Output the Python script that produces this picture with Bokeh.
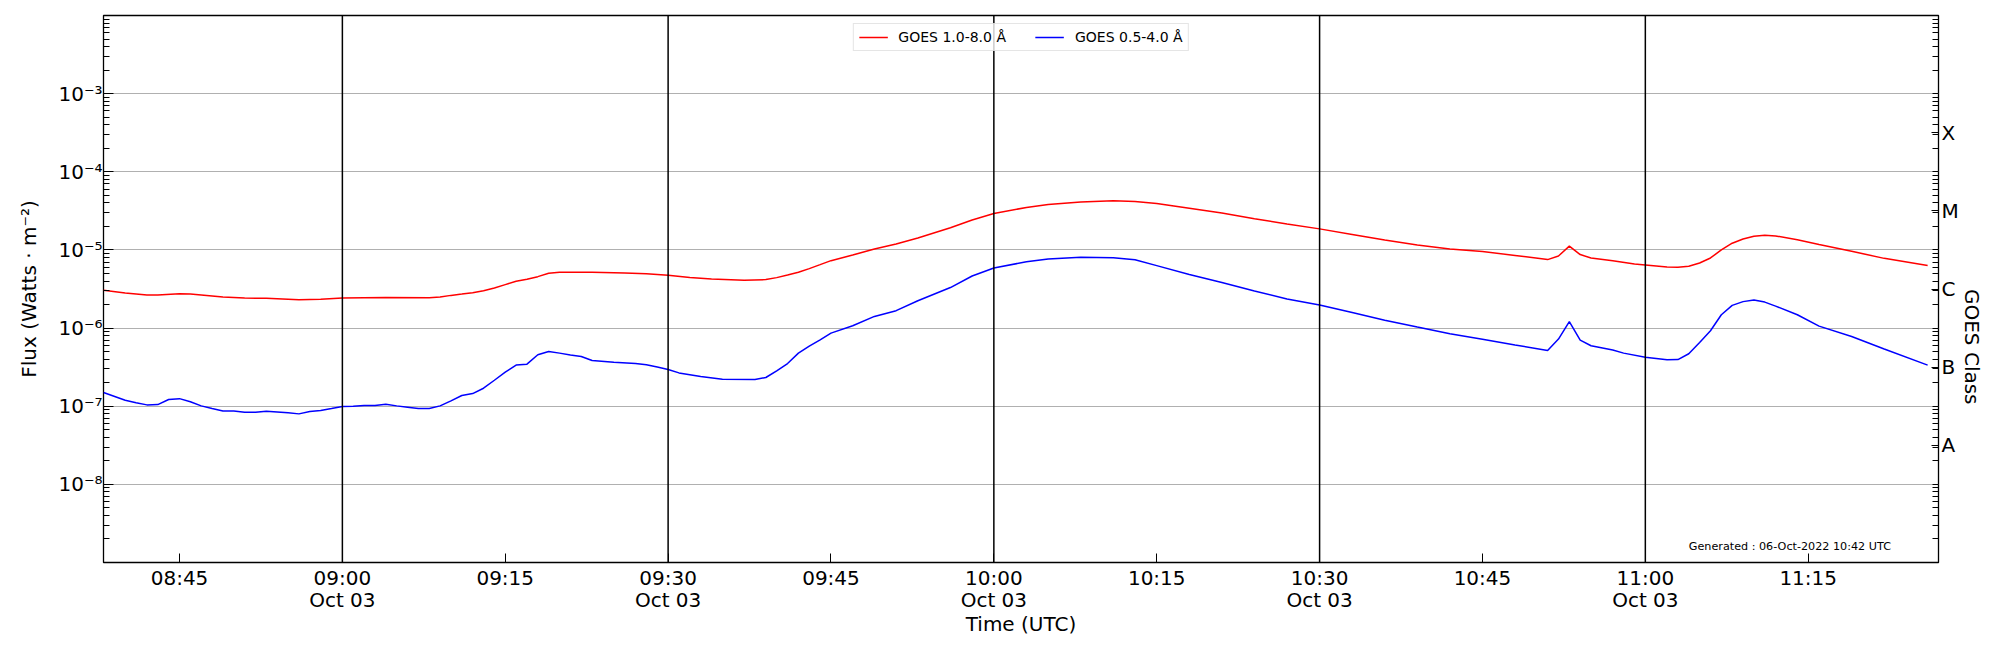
import pandas as pd
from bokeh.plotting import figure
from bokeh.models import (Range1d, FixedTicker, LogAxis, Span, Label, Legend,
                          LegendItem, ColumnDataSource)
from bokeh.embed import file_html
from bokeh.resources import INLINE

DATE = "2022-10-03"

# GOES 1.0-8.0 Å (long channel)
long_times = ["08:38", "08:40", "08:42", "08:43", "08:45", "08:46", "08:47", "08:49",
              "08:51", "08:53", "08:56", "08:58", "09:00", "09:02", "09:04", "09:08",
              "09:09", "09:10", "09:11", "09:12", "09:13", "09:14", "09:15", "09:16",
              "09:17", "09:18", "09:19", "09:20", "09:23", "09:26", "09:28", "09:30",
              "09:32", "09:34", "09:37", "09:39", "09:40", "09:41", "09:42", "09:43",
              "09:44", "09:45", "09:47", "09:49", "09:51", "09:53", "09:56", "09:58",
              "10:00", "10:03", "10:05", "10:08", "10:11", "10:13", "10:15", "10:18",
              "10:21", "10:24", "10:27", "10:30", "10:33", "10:36", "10:39", "10:42",
              "10:45", "10:48", "10:51", "10:52", "10:53", "10:54", "10:55", "10:57",
              "10:59", "11:00", "11:02", "11:03", "11:04", "11:05", "11:06", "11:07",
              "11:08", "11:09", "11:10", "11:11", "11:12", "11:14", "11:16", "11:19",
              "11:22", "11:26"]
long_flux = [3.04e-6, 2.81e-6, 2.65e-6, 2.65e-6, 2.75e-6, 2.72e-6, 2.65e-6, 2.49e-6,
             2.42e-6, 2.40e-6, 2.31e-6, 2.33e-6, 2.42e-6, 2.45e-6, 2.47e-6, 2.45e-6,
             2.49e-6, 2.62e-6, 2.72e-6, 2.84e-6, 3.01e-6, 3.26e-6, 3.60e-6, 3.97e-6,
             4.21e-6, 4.55e-6, 5.02e-6, 5.18e-6, 5.18e-6, 5.07e-6, 4.97e-6, 4.74e-6,
             4.45e-6, 4.25e-6, 4.08e-6, 4.17e-6, 4.42e-6, 4.77e-6, 5.18e-6, 5.77e-6,
             6.48e-6, 7.29e-6, 8.6e-6, 1.03e-5, 1.19e-5, 1.42e-5, 1.92e-5, 2.42e-5,
             2.92e-5, 3.50e-5, 3.81e-5, 4.12e-5, 4.25e-5, 4.16e-5, 3.93e-5, 3.42e-5,
             2.97e-5, 2.51e-5, 2.15e-5, 1.86e-5, 1.58e-5, 1.34e-5, 1.16e-5, 1.03e-5,
             9.55e-6, 8.5e-6, 7.52e-6, 8.37e-6, 1.12e-5, 8.72e-6, 7.89e-6, 7.29e-6,
             6.62e-6, 6.43e-6, 6.05e-6, 6.0e-6, 6.18e-6, 6.81e-6, 7.89e-6, 1.0e-5,
             1.22e-5, 1.38e-5, 1.50e-5, 1.54e-5, 1.51e-5, 1.35e-5, 1.17e-5, 9.6e-6,
             7.8e-6, 6.3e-6]

# GOES 0.5-4.0 Å (short channel)
short_times = ["08:38", "08:40", "08:41", "08:42", "08:43", "08:44", "08:45", "08:46",
               "08:47", "08:48", "08:49", "08:50", "08:51", "08:52", "08:53", "08:54",
               "08:55", "08:56", "08:57", "08:58", "08:59", "09:00", "09:01", "09:02",
               "09:03", "09:04", "09:05", "09:06", "09:07", "09:08", "09:09", "09:10",
               "09:11", "09:12", "09:13", "09:14", "09:15", "09:16", "09:17", "09:18",
               "09:19", "09:20", "09:21", "09:22", "09:23", "09:25", "09:27", "09:28",
               "09:29", "09:30", "09:31", "09:33", "09:35", "09:38", "09:39", "09:40",
               "09:41", "09:42", "09:43", "09:44", "09:45", "09:47", "09:49", "09:51",
               "09:53", "09:56", "09:58", "10:00", "10:03", "10:05", "10:08", "10:11",
               "10:13", "10:15", "10:18", "10:21", "10:24", "10:27", "10:30", "10:33",
               "10:36", "10:39", "10:42", "10:45", "10:48", "10:51", "10:52", "10:53",
               "10:54", "10:55", "10:57", "10:58", "11:00", "11:02", "11:03", "11:04",
               "11:05", "11:06", "11:07", "11:08", "11:09", "11:10", "11:11", "11:12",
               "11:14", "11:16", "11:19", "11:22", "11:26"]
short_flux = [1.50e-7, 1.19e-7, 1.11e-7, 1.04e-7, 1.05e-7, 1.22e-7, 1.25e-7, 1.14e-7,
              1.01e-7, 9.33e-8, 8.71e-8, 8.71e-8, 8.37e-8, 8.37e-8, 8.63e-8, 8.46e-8,
              8.22e-8, 7.98e-8, 8.55e-8, 8.80e-8, 9.33e-8, 9.91e-8, 1.0e-7, 1.02e-7,
              1.02e-7, 1.06e-7, 1.01e-7, 9.71e-8, 9.33e-8, 9.33e-8, 1.01e-7, 1.17e-7,
              1.37e-7, 1.45e-7, 1.70e-7, 2.15e-7, 2.73e-7, 3.36e-7, 3.45e-7, 4.55e-7,
              5.02e-7, 4.78e-7, 4.51e-7, 4.33e-7, 3.85e-7, 3.65e-7, 3.52e-7, 3.40e-7,
              3.18e-7, 2.95e-7, 2.67e-7, 2.40e-7, 2.22e-7, 2.20e-7, 2.33e-7, 2.84e-7,
              3.52e-7, 4.78e-7, 5.87e-7, 7.08e-7, 8.62e-7, 1.07e-6, 1.41e-6, 1.67e-6,
              2.24e-6, 3.3e-6, 4.64e-6, 5.88e-6, 7.05e-6, 7.67e-6, 8.05e-6, 7.97e-6,
              7.5e-6, 6.3e-6, 4.85e-6, 3.82e-6, 2.99e-6, 2.36e-6, 1.97e-6, 1.58e-6,
              1.26e-6, 1.03e-6, 8.45e-7, 7.2e-7, 6.08e-7, 5.17e-7, 7.23e-7, 1.21e-6,
              7.02e-7, 5.94e-7, 5.25e-7, 4.78e-7, 4.24e-7, 3.92e-7, 3.95e-7, 4.69e-7,
              6.55e-7, 9.24e-7, 1.48e-6, 1.95e-6, 2.18e-6, 2.29e-6, 2.15e-6, 1.91e-6,
              1.48e-6, 1.06e-6, 7.8e-7, 5.4e-7, 3.36e-7]

x_tick_times = ["08:45", "09:00", "09:15", "09:30", "09:45", "10:00", "10:15",
                "10:30", "10:45", "11:00", "11:15"]
x_tick_labels = ["08:45", "09:00\nOct 03", "09:15", "09:30\nOct 03", "09:45",
                 "10:00\nOct 03", "10:15", "10:30\nOct 03", "10:45", "11:00\nOct 03",
                 "11:15"]
vline_times = ["09:00", "09:30", "10:00", "10:30", "11:00"]
y_ticks = [1e-8, 1e-7, 1e-6, 1e-5, 1e-4, 1e-3]
y_tick_labels = ["10⁻⁸", "10⁻⁷", "10⁻⁶", "10⁻⁵", "10⁻⁴", "10⁻³"]
class_labels = ["A", "B", "C", "M", "X"]
class_exponents = [-7.5, -6.5, -5.5, -4.5, -3.5]
x_start, x_end = "08:38", "11:27"
y_start, y_end = 1e-9, 1e-2
generated_text = "Generated : 06-Oct-2022 10:42 UTC"


def ms(t):
    return pd.Timestamp(f"{DATE} {t}").value / 1e6


FONT = "DejaVu Sans"

p = figure(width=1999, height=648, output_backend="svg", toolbar_location=None,
           y_axis_type="log",
           x_range=Range1d(ms(x_start), ms(x_end)),
           y_range=Range1d(y_start, y_end),
           min_border_left=103, min_border_right=61, min_border_top=15,
           min_border_bottom=86)
p.background_fill_color = "white"
p.outline_line_color = "black"
p.outline_line_width = 1.3
p.outline_line_alpha = 1.0

# minor log ticks
minor = []
for e in range(-9, -2):
    for m in range(2, 10):
        minor.append(m * 10.0 ** e)
decades = [10.0 ** e for e in range(-9, -1)]


def style(ax):
    ax.axis_line_color = None
    ax.major_tick_line_color = "black"
    ax.minor_tick_line_color = "black"
    ax.major_label_text_font = FONT
    ax.major_label_text_font_size = "20px"
    ax.major_label_text_color = "black"
    ax.axis_label_text_font = FONT
    ax.axis_label_text_font_size = "20px"
    ax.axis_label_text_font_style = "normal"
    ax.axis_label_text_color = "black"


# x axis
xa = p.xaxis[0]
style(xa)
xa.ticker = FixedTicker(ticks=[ms(t) for t in x_tick_times])
xa.major_label_overrides = {ms(t): lab for t, lab in zip(x_tick_times, x_tick_labels)}
xa.axis_label = "Time (UTC)"
xa.major_tick_in = 9
xa.major_tick_out = 0
xa.minor_tick_line_color = None
xa.major_label_standoff = 3
xa.major_label_text_line_height = 0.95
xa.axis_label_standoff = -3

# left y axis
ya = p.yaxis[0]
style(ya)
ya.ticker = FixedTicker(ticks=y_ticks, minor_ticks=minor + decades)
ya.major_label_overrides = {v: lab for v, lab in zip(y_ticks, y_tick_labels)}
ya.axis_label = "Flux (Watts · m⁻²)"
ya.major_tick_in = 10
ya.major_tick_out = 0
ya.minor_tick_in = 6
ya.minor_tick_out = 0
ya.major_label_standoff = 1
ya.axis_label_standoff = 14

# right GOES class axis
centers = [10.0 ** e for e in class_exponents]
ra = LogAxis(ticker=FixedTicker(ticks=centers, minor_ticks=minor + decades),
             major_label_overrides={v: lab for v, lab in zip(centers, class_labels)},
             axis_label="GOES Class")
style(ra)
ra.major_tick_in = 7
ra.major_tick_out = 0
ra.minor_tick_in = 6
ra.minor_tick_out = 0
ra.major_label_standoff = 3
ra.axis_label_standoff = 10
try:
    ra.axis_label_orientation = -1.5707963
except Exception:
    pass
p.add_layout(ra, "right")

# grids
p.xgrid.grid_line_color = None
p.ygrid.ticker = FixedTicker(ticks=decades)
p.ygrid.grid_line_color = "#b0b0b0"
p.ygrid.grid_line_width = 1

for t in vline_times:
    p.add_layout(Span(location=ms(t), dimension="height", line_color="black",
                      line_width=1.5))

src_long = ColumnDataSource(dict(x=[ms(t) for t in long_times], y=long_flux))
src_short = ColumnDataSource(dict(x=[ms(t) for t in short_times], y=short_flux))
r1 = p.line("x", "y", source=src_long, line_color="#ff0000", line_width=1.5)
r2 = p.line("x", "y", source=src_short, line_color="#0000ff", line_width=1.5)

legend = Legend(items=[LegendItem(label="GOES 1.0-8.0 Å", renderers=[r1]),
                       LegendItem(label="GOES 0.5-4.0 Å", renderers=[r2])],
                location="top_center", orientation="horizontal")
legend.label_text_font = FONT
legend.label_text_font_size = "14px"
legend.label_text_color = "black"
legend.glyph_width = 29
legend.glyph_height = 16
legend.label_standoff = 11
legend.spacing = 29
legend.padding = 5
legend.margin = 8
legend.border_line_color = "#cccccc"
legend.border_line_width = 1
legend.background_fill_alpha = 0.8
p.add_layout(legend, "center")

p.add_layout(Label(x=ms("11:04"), y=10 ** -8.88, text=generated_text,
                   text_font=FONT, text_font_size="11.2px", text_align="left",
                   text_baseline="bottom", text_color="black"))

open("out.html", "w").write(file_html(p, INLINE))
